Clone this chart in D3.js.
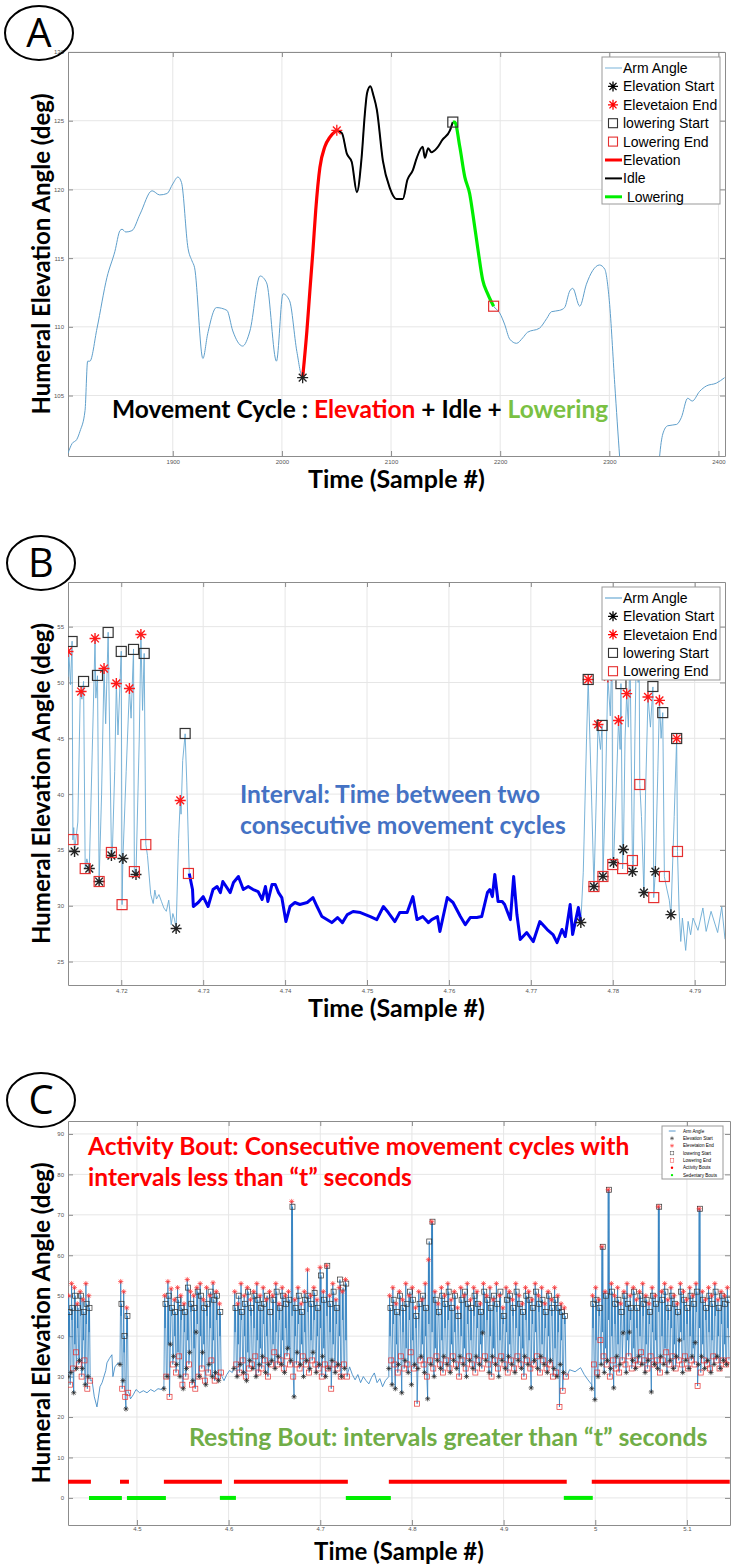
<!DOCTYPE html>
<html>
<head>
<meta charset="utf-8">
<title>Humeral Elevation Angle</title>
<script src="https://cdn.jsdelivr.net/npm/d3@7"></script>
<style>
  body { margin: 0; background: #fff; }
  .grid line { stroke: #e6e6e6; stroke-width: 1; }
  .axis path, .axis line { stroke: #8c8c8c; stroke-width: 1; }
  .axis text { font-family: "Liberation Sans", Arial, sans-serif; font-size: 6px; fill: #555; }
  .title { font-family: Lato, "Open Sans", sans-serif; font-weight: bold; fill: #000; }
  .note { font-family: Lato, "Open Sans", sans-serif; font-weight: bold; }
  .leg text { font-family: "Liberation Sans", Arial, sans-serif; fill: #000; }
</style>
</head>
<body>
<svg id="fig" width="739" height="1566"></svg>
<script>
// ---------------- panel A ----------------
var aTicksX = [1900, 2000, 2100, 2200, 2300, 2400];
var aTicksY = [105, 110, 115, 120, 125, 130];
var armBefore = [[1804,100.8],[1807.7,101.5],[1812,101.8],[1815,102.4],[1819.6,103.9],[1822,107.5],[1824,107.5],
  [1830.6,109.9],[1839.7,113.6],[1847,115.5],[1851.6,117],[1853.5,117.1],[1857,116.9],[1862.6,117],[1870,118.2],
  [1881,119.9],[1888,119.6],[1894.7,119.7],[1900,120.4],[1904.7,120.9],[1908,120.5],[1914,115.7],[1917.6,114.8],
  [1920,114.3],[1927.6,107.7],[1932,109.5],[1940,111.4],[1949.6,111.2],[1955,109.7],[1964,108.6],[1970.7,109.7],
  [1980,113.7],[1986,113.2],[1995,107.5],[2001,112.4],[2007,111.9],[2013.7,108.2],[2019,106.3]];
var elevationSeg = [[2019,106.3],[2022.9,109.7],[2025.6,112.6],[2028.4,115.5],[2031,118.5],[2034.8,121.6],
  [2039.3,123.1],[2044,123.8],[2050.3,124.3]];
var idleSeg = [[2050.3,124.3],[2055,124.1],[2059.5,122.6],[2064,122],[2068.7,119.8],[2073,122.3],[2076,125.5],
  [2078,127],[2081,127.5],[2084,126.8],[2087,125.8],[2092.5,122.1],[2098.9,120.1],[2105,119.3],[2110.8,119.3],
  [2115,120.7],[2120,121.4],[2123.6,122.3],[2129,123.1],[2131,122.3],[2134,123],[2137,122.7],[2142,123],
  [2147,123.6],[2154,124.3],[2156.6,124.9]];
var loweringSeg = [[2156.6,124.9],[2158.4,124.9],[2163,123.1],[2167.6,120.9],[2172,119.7],[2175,118.2],
  [2179.5,115.7],[2184,113.4],[2188.6,112.4],[2194,111.5]];
var armAfter = [[2194,111.5],[2199.6,111],[2204,110.2],[2208.8,109.1],[2215,108.8],[2220.7,109.2],[2225,109.6],
  [2236,109.9],[2242.6,110.6],[2247,111.1],[2254.5,111.2],[2259,111.4],[2263.7,112.6],[2266.5,112.8],
  [2272.9,111.5],[2279,113.1],[2284.8,114.1],[2291,114.5],[2295.8,114.2],[2300,111.9],[2305,105.8],
  [2309.5,100.5],[2313,97],[2343,97],[2346,100.5],[2349,102.2],[2353.5,102.8],[2361.7,102.9],[2366,103.4],
  [2371.8,104.8],[2376,104.6],[2382.7,105.3],[2389,105.7],[2398,105.9],[2405.6,106.3]];

// ---------------- panel B ----------------
var bTicksX = [4.72, 4.73, 4.74, 4.75, 4.76, 4.77, 4.78, 4.79];
var bTicksY = [25, 30, 35, 40, 45, 50, 55];
var armBLeft = [[4.7135,50.5],[4.7136,52.8],[4.7138,49.8],[4.7140,53.7],[4.7141,35.9],[4.7142,37],[4.7143,34.9],
  [4.7147,37.5],[4.7150,49.2],[4.7152,48.5],[4.7154,50.1],[4.7156,33.3],[4.7158,34.2],[4.7161,33.3],[4.7165,45],
  [4.7168,53.9],[4.7169,48.6],[4.7171,50.6],[4.7173,32.2],[4.7176,40],[4.7179,51.25],[4.7181,46.3],[4.7184,54.5],
  [4.7188,34.8],[4.7189,34.5],[4.7192,42],[4.7194,49.9],[4.7196,45.3],[4.7200,52.8],[4.7201,30.1],[4.7202,34.2],
  [4.7206,42],[4.7210,49.5],[4.7212,46.8],[4.7215,53.0],[4.7216,33.1],[4.7218,32.8],[4.7222,45],[4.7224,54.3],
  [4.7226,47.5],[4.7228,52.6],[4.7230,35.5],[4.7232,34.5],[4.7236,31],[4.7239,30.2],[4.7241,31.4],[4.7243,30.6],
  [4.7246,31],[4.7249,30.4],[4.7252,29.8],[4.7255,29.5],[4.7258,30.5],[4.7261,28.3],[4.7263,29.3],[4.7265,28.8],
  [4.7267,27.96],[4.7270,36],[4.7272,39.4],[4.7273,38.2],[4.7275,43],[4.7278,45.4],[4.7280,41],[4.7283,32.9]];
var intervalB = [[4.7283,32.89],[4.7287,31.45],[4.7288,29.93],[4.7294,30.29],[4.7300,30.82],[4.7306,29.93],
  [4.7312,31.45],[4.7317,31.72],[4.7321,31.18],[4.7324,32.17],[4.7333,31.18],[4.7337,32.08],[4.7343,32.62],
  [4.7349,31.45],[4.7355,31.72],[4.7361,31.45],[4.7367,31.27],[4.7372,30.56],[4.7376,31.72],[4.7379,30.38],
  [4.7384,31.9],[4.7388,31.9],[4.7392,31.18],[4.7396,30.73],[4.7401,28.58],[4.7406,29.93],[4.7412,30.29],
  [4.7418,30.11],[4.7427,30.29],[4.7434,30.73],[4.7439,29.93],[4.7445,29.03],[4.7451,28.76],[4.7457,28.49],
  [4.7464,28.94],[4.7470,28.49],[4.7476,29.21],[4.7483,29.48],[4.7492,29.39],[4.7504,29.03],[4.7512,28.76],
  [4.7520,29.93],[4.7526,29.39],[4.7534,28.58],[4.7540,29.39],[4.7549,29.39],[4.7556,30.82],[4.7561,28.76],
  [4.7568,29.03],[4.7575,28.49],[4.7579,28.76],[4.7586,29.03],[4.7589,27.69],[4.7598,30.73],[4.7605,30.29],
  [4.7614,29.03],[4.7620,28.3],[4.7626,28.94],[4.7634,28.94],[4.7640,29.03],[4.7647,31.18],[4.7650,31.45],
  [4.7653,30.82],[4.7656,32.8],[4.7660,30.38],[4.7665,30.38],[4.7668,30.11],[4.7675,28.76],[4.7679,32.62],
  [4.7683,29.21],[4.7687,26.97],[4.7695,27.6],[4.7703,26.79],[4.7711,28.58],[4.7720,27.87],[4.7727,27.42],
  [4.7732,26.7],[4.7738,27.87],[4.7742,27.24],[4.7748,30.11],[4.7751,27.42],[4.7758,29.84],[4.7761,28.49]];
var armBRight = [[4.7761,28.49],[4.7764,33],[4.7768,45],[4.7770,50.3],[4.7774,40],[4.7777,31.7],[4.7780,40],
  [4.7782,46.2],[4.7785,44],[4.7787,46.15],[4.7788,32.6],[4.7791,40],[4.7794,50.5],[4.7797,47],[4.7799,53],
  [4.7800,33.7],[4.7801,33.9],[4.7804,40],[4.7807,46.6],[4.7809,44],[4.7810,49.9],[4.7812,33.3],[4.7813,35.0],
  [4.7815,45],[4.7817,49.0],[4.7819,46],[4.7821,53],[4.7824,34.05],[4.7825,33.06],[4.7827,45],[4.7829,54],
  [4.7831,50],[4.7832,55],[4.7833,40.86],[4.7835,38],[4.7838,31.18],[4.7840,40],[4.7843,48.7],[4.7846,46],
  [4.7849,49.6],[4.7850,30.73],[4.7852,33.06],[4.7855,42],[4.7857,48.4],[4.7859,45],[4.7861,47.3],[4.7863,32.6],
  [4.7866,31.5],[4.7869,30.5],[4.7871,29.2],[4.7875,38],[4.7878,45.0],[4.7879,34.86],[4.7881,29.5],[4.7883,26.8],
  [4.7885,28.9],[4.7889,26.0],[4.7892,28.6],[4.7895,27.4],[4.7898,28.9],[4.7904,27.8],[4.7910,29.8],[4.7914,27.7],
  [4.7920,29.5],[4.7928,27.6],[4.7933,29.9],[4.7937,27.0]];
var bElevStart = [[4.7143,34.86],[4.7161,33.33],[4.7173,32.17],[4.7188,34.5],[4.7202,34.23],[4.7218,32.8],
  [4.7267,27.96],[4.7761,28.5],[4.7777,31.72],[4.7788,32.62],[4.7801,33.87],[4.7813,35.04],[4.7824,33.06],
  [4.7838,31.18],[4.7852,33.06],[4.7871,29.2]];
var bElevEnd = [[4.7135,52.78],[4.7151,49.19],[4.7168,53.94],[4.7179,51.25],[4.7194,49.91],[4.7210,49.46],
  [4.7224,54.3],[4.7272,39.43],[4.7770,50.27],[4.7782,46.24],[4.7794,50.5],[4.7807,46.6],[4.7817,49.0],
  [4.7829,54],[4.7843,48.7],[4.7857,48.4],[4.7878,44.98]];
var bLowerStart = [[4.7140,53.67],[4.7154,50.09],[4.7171,50.63],[4.7184,54.48],[4.7200,52.78],[4.7215,52.96],
  [4.7228,52.6],[4.7278,45.43],[4.7770,50.27],[4.7787,46.15],[4.7799,53],[4.7810,49.9],[4.7821,53],[4.7832,55],
  [4.7849,49.64],[4.7861,47.3],[4.7878,44.98]];
var bLowerEnd = [[4.7141,35.93],[4.7156,33.33],[4.7173,32.17],[4.7188,34.77],[4.7201,30.1],[4.7216,33.06],
  [4.7230,35.48],[4.7282,32.89],[4.7777,31.72],[4.7788,32.62],[4.7800,33.69],[4.7812,33.33],[4.7824,34.05],
  [4.7833,40.86],[4.7850,30.73],[4.7863,32.62],[4.7879,34.86]];

// ---------------- panel C ----------------
var cTicksX = [4.5, 4.6, 4.7, 4.8, 4.9, 5.0, 5.1];
var cTicksY = [0, 10, 20, 30, 40, 50, 60, 70, 80, 90];
var activityBouts = [[4.4248,4.4498],[4.4815,4.4913],[4.5294,4.5927],[4.6058,4.7301],[4.7748,4.9689],[4.9962,5.1467]];
var sedentaryBouts = [[4.4477,4.4836],[4.4891,4.5316],[4.5905,4.6080],[4.7279,4.7770],[4.9657,4.9973]];
// movement cycles per activity bout: [elev start, elev end, lowering start, lowering end] (deg)
var cyclesC = [
  [[30,50,46,28],[31,53,47,32],[26,52,50,36],[32,48,47,33],[34,51,50,30],[32,49,46,34],[28,53,48,27],[30,50,47,29]],
  [[33,53.5,48,27],[29,51,40,25],[22,47,45,26]],
  [[27,50,48,30],[30,53.5,50,25],[38,51.7,47,33],[35,49,46,31],[33,52,49,35],[30,50,47,28],[27,48,46,30],
   [32,54,52,33],[36,51,48,28],[29,50,47,27],[41,52,51,30],[30,53,50,32],[36,49,47,29],[28,52,48,31],
   [33,50,51,34],[30,53.2,49,29],[31,51,50,30],[29,48,46,31]],
  [[32,51,47,33],[30,48,50,31],[33,53,46,34],[31,50,48,30],[29,52,51,32],[34,49,47,33],[32,51,50,35],
   [30,53,49,31],[33,50,47,32],[35,52,48,34],[31,49,50,30],[33,51,46,33],[34,50,49,36],[32,53,51,33],
   [35,48,47,34],[33,52,50,32],[31,50,48,35],[37,51,49,33],[34,73.3,72,30],[25,49,47,33],[36,52,50,32],
   [33,48,46,35],[30,51,49,33],[34,56.4,50,31],[32,50,48,34],[36,52,50.7,33],[31,49,47,32],[33,57,55,30],
   [35,51,49,33],[30,57.4,57.4,32],[32,50,48,27],[34,53,51,33],[31,49,47,32],[33,52,54,30],[30,51,52,33],
   [32,54,53,30]],
  [[32,50,47,34],[28,52,49,33],[27,48,46,31],[33,51,50,35],[26,49,47,32],[34,53,48,33],[31,50,51,36],
   [28,52,49,32],[33,47,45,23.3],[32,51,48,34],[35,49,50,33],[31,53,47,30],[24.5,58.9,63.4,34],[33,68.3,68.3,32],
   [30,51,49,35],[34,48,46,33],[32,52,50,31],[35,50,48,34],[33,53,51,32],[31,49,47,35],[34,51,50,33],
   [32,47,45,30],[35,52,49,34],[33,50,51,32],[30,53,48,35],[34,49,47,33],[32,52,50,31],[35,51,48,34],
   [33,48,46,32],[40.8,53,51,35],[34,50,49,33],[31,52,47,30],[35,49,50,34],[33,53,48,32],[30,50,51,35],
   [34,47,45,33],[32,52,49,31],[35,51,50,34],[33,49,47,32],[31,53,51,35],[34,50,48,33],[32,48,46,30],
   [35,52,50,34],[33,51,49,32],[27.2,49,47,33],[34,53,51,35],[32,50,48,31],[35,52,49,34],[33,48,46,32],
   [31,51,50,33],[34,49,47,30],[32,52,49,31],[30,50,47,22.5],[33,48,46,26.5],[31,47,45,30]],
  [[27,50,48,33],[24.3,52,49,31],[30,49,47,39],[33,62.1,62.1,35],[31,51,50,33],[34,76.2,76.2,30],[32,53,51,34],
   [27.2,50,48,32],[35,52,49,31],[33,48,46,34],[40.8,51,50,33],[31,53,48,35],[41,50,47,32],[34,52,51,34],
   [32,49,47,33],[35,51,50,36],[33,53,48,34],[31,50,49,32],[34,48,46,35],[26.2,52,50,33],[33,50,48,34],
   [32,72,72,31],[35,51,49,34],[33,53,51,36],[31,49,47,33],[34,52,50,35],[32,50,48,32],[35,48,46,34],
   [39,53,51,33],[31,51,49,35],[34,49,47,32],[32,52,50,34],[35,50,48,33],[38.4,53,51,27.7],[33,71.5,71.5,31],
   [35,51,49,34],[32,49,47,33],[34,52,50,32],[31,50,48,35],[33,53,51,34],[35,49,47,32],[32,51,50,34],
   [34,50,48,33],[33,52,49,34]]
];
// lowest point of the idle dip inside each movement cycle (deg)
var idleDipC = [
  [40,44,38,42,45,39,43,41],
  [45,36,40],
  [42,38,45,40,36,44,41,39,46,37,43,40,38,45,42,39,44,40],
  [41,38,44,40,36,45,42,39,37,43,40,46,38,41,44,39,42,37,45,40,43,38,41,46,39,44,40,42,37,45,41,38,43,40,44,39],
  [40,43,38,45,41,37,44,39,42,46,38,40,43,41,37,45,39,42,44,38,41,46,40,37,43,39,45,42,38,41,44,40,37,46,39,43,
   41,38,45,42,40,37,44,39,43,41,46,38,42,40,45,37,41,39,43],
  [42,39,45,41,37,44,40,43,38,46,41,39,44,37,42,40,45,38,43,41,39,46,40,37,44,42,38,45,41,39,43,40,37,46,42,38,
   44,41,39,45,40,43,38,42]
];
// resting stretches of the arm angle trace between bouts
var restC = [
  [[4.4498,29],[4.4509,29.2],[4.4535,25],[4.4564,22.5],[4.4597,27.5],[4.4620,28.5],[4.4640,30],[4.4660,31.5],
   [4.4673,33.4],[4.4700,34.5],[4.4727,35.4],[4.4738,30],[4.4760,32.4],[4.4793,33.4],[4.4815,33]],
  [[4.4913,26],[4.4930,24.5],[4.4960,25.5],[4.4990,26.8],[4.5030,26],[4.5070,26.5],[4.5110,26],[4.5150,26.8],
   [4.5190,26.3],[4.5230,27],[4.5270,26.8],[4.5294,27.5]],
  [[4.5927,30],[4.5950,29],[4.5980,30.5],[4.6010,31.5],[4.6040,31],[4.6058,32]],
  [[4.7301,31],[4.7320,32.4],[4.7350,30.5],[4.7380,29.2],[4.7410,30.5],[4.7440,28.5],[4.7470,30],[4.7500,29],
   [4.7530,28.2],[4.7560,29.8],[4.7590,30.9],[4.7620,28.5],[4.7650,29.5],[4.7680,27.5],[4.7710,29],[4.7748,30]],
  [[4.9689,30],[4.9720,31.7],[4.9780,31.2],[4.9840,32.2],[4.9880,30.5],[4.9920,29.2],[4.9962,28]]
];

// ---------------- drawing ----------------
var svg = d3.select("#fig");
var fmt = function(d) { return String(+d.toFixed(2)); };

function addPanel(p) {
  var x = d3.scaleLinear().domain(p.xDomain).range([p.left, p.right]);
  var y = d3.scaleLinear().domain(p.yDomain).range([p.bottom, p.top]);
  var g = svg.append("g");
  g.append("g").attr("class", "grid").selectAll("line").data(p.xTicks).join("line")
    .attr("x1", x).attr("x2", x).attr("y1", p.top).attr("y2", p.bottom);
  g.append("g").attr("class", "grid").selectAll("line").data(p.yTicks).join("line")
    .attr("x1", p.left).attr("x2", p.right).attr("y1", y).attr("y2", y);
  g.append("g").attr("class", "axis").attr("transform", "translate(0," + p.bottom + ")")
    .call(d3.axisBottom(x).tickValues(p.xTicks).tickSize(-5).tickSizeOuter(0).tickPadding(p.pad).tickFormat(fmt));
  g.append("g").attr("class", "axis").attr("transform", "translate(0," + p.top + ")")
    .call(d3.axisTop(x).tickValues(p.xTicks).tickSize(-5).tickSizeOuter(0).tickFormat(""));
  g.append("g").attr("class", "axis").attr("transform", "translate(" + p.left + ",0)")
    .call(d3.axisLeft(y).tickValues(p.yTicks).tickSize(-5).tickSizeOuter(0).tickPadding(4).tickFormat(fmt));
  g.append("g").attr("class", "axis").attr("transform", "translate(" + p.right + ",0)")
    .call(d3.axisRight(y).tickValues(p.yTicks).tickSize(-5).tickSizeOuter(0).tickFormat(""));
  svg.append("clipPath").attr("id", p.id).append("rect")
    .attr("x", p.left).attr("y", p.top).attr("width", p.right - p.left).attr("height", p.bottom - p.top);
  var plot = svg.append("g").attr("clip-path", "url(#" + p.id + ")");

  // titles
  var cy = (p.top + p.bottom) / 2;
  svg.append("text").attr("class", "title").attr("transform", "translate(50," + cy + ") rotate(-90)")
    .attr("text-anchor", "middle").style("font-size", "24px").text("Humeral Elevation Angle (deg)");
  svg.append("text").attr("class", "title").attr("x", (p.left + p.right) / 2).attr("y", p.bottom + p.titleDy)
    .attr("text-anchor", "middle").style("font-size", p.titleSize + "px").text("Time (Sample #)");
  // panel letter
  svg.append("ellipse").attr("cx", p.lab[0]).attr("cy", p.lab[1]).attr("rx", 34).attr("ry", 27)
    .attr("fill", "none").attr("stroke", "#000").attr("stroke-width", 2);
  svg.append("text").attr("x", p.lab[0]).attr("y", p.lab[1] + 14).attr("text-anchor", "middle")
    .style("font-family", "'Open Sans', sans-serif").style("font-size", "40px").text(p.letter);
  return { x: x, y: y, plot: plot };
}

function starPath(r) {
  var a = r * 0.707;
  return "M" + (-r) + ",0H" + r + "M0," + (-r) + "V" + r +
    "M" + (-a) + "," + (-a) + "L" + a + "," + a + "M" + (-a) + "," + a + "L" + a + "," + (-a);
}
function stars(sel, pts, x, y, r, color, w) {
  sel.append("g").selectAll("path").data(pts).join("path")
    .attr("transform", function(d) { return "translate(" + x(d[0]) + "," + y(d[1]) + ")"; })
    .attr("d", starPath(r)).attr("fill", "none").attr("stroke", color).attr("stroke-width", w);
}
function squares(sel, pts, x, y, s, color, w) {
  sel.append("g").selectAll("rect").data(pts).join("rect")
    .attr("x", function(d) { return x(d[0]) - s / 2; }).attr("y", function(d) { return y(d[1]) - s / 2; })
    .attr("width", s).attr("height", s).attr("fill", "none").attr("stroke", color).attr("stroke-width", w);
}
function drawLine(sel, pts, x, y, color, w, curve) {
  sel.append("path").datum(pts)
    .attr("d", d3.line().x(function(d) { return x(d[0]); }).y(function(d) { return y(d[1]); }).curve(curve || d3.curveLinear))
    .attr("fill", "none").attr("stroke", color).attr("stroke-width", w).attr("stroke-linejoin", "round");
}

function legend(box, items, fs, rowH, firstY, symX, textX, scale) {
  var g = svg.append("g").attr("class", "leg");
  g.append("rect").attr("x", box[0]).attr("y", box[1]).attr("width", box[2]).attr("height", box[3])
    .attr("fill", "#fff").attr("stroke", "#999").attr("stroke-width", 1);
  items.forEach(function(it, i) {
    var yy = firstY + i * rowH;
    if (it.type === "line") {
      g.append("line").attr("x1", symX - 8 * scale).attr("x2", symX + 9 * scale).attr("y1", yy).attr("y2", yy)
        .attr("stroke", it.color).attr("stroke-width", it.w);
    } else if (it.type === "star") {
      g.append("path").attr("transform", "translate(" + symX + "," + yy + ")").attr("d", starPath(5 * scale))
        .attr("fill", "none").attr("stroke", it.color).attr("stroke-width", 1.3 * scale);
    } else if (it.type === "square") {
      g.append("rect").attr("x", symX - 4.5 * scale).attr("y", yy - 4.5 * scale).attr("width", 9 * scale)
        .attr("height", 9 * scale).attr("fill", "none").attr("stroke", it.color).attr("stroke-width", 1.1 * scale);
    } else if (it.type === "dot") {
      g.append("circle").attr("cx", symX).attr("cy", yy).attr("r", 3 * scale).attr("fill", it.color);
    }
    g.append("text").attr("x", textX).attr("y", yy).attr("dy", "0.36em").style("font-size", fs + "px").text(it.label);
  });
}

// ===== Panel A =====
var A = addPanel({ id: "clipA", left: 68, right: 725, top: 52, bottom: 456, xDomain: [1804, 2406], yDomain: [100.6, 130],
  xTicks: aTicksX, yTicks: aTicksY, titleDy: 32, titleSize: 25, pad: 4, lab: [39, 33], letter: "A" });
var armA = armBefore.concat(elevationSeg.slice(1), idleSeg.slice(1), loweringSeg.slice(1), armAfter.slice(1));
drawLine(A.plot, armA, A.x, A.y, "#5f9fcb", 1, d3.curveMonotoneX);
drawLine(A.plot, elevationSeg, A.x, A.y, "#ff0000", 3.2, d3.curveMonotoneX);
drawLine(A.plot, idleSeg, A.x, A.y, "#000", 2, d3.curveMonotoneX);
drawLine(A.plot, loweringSeg, A.x, A.y, "#00ee00", 3.2, d3.curveMonotoneX);
stars(A.plot, [elevationSeg[0]], A.x, A.y, 5.5, "#222", 1.3);
stars(A.plot, [elevationSeg[elevationSeg.length - 1]], A.x, A.y, 5.5, "#ff1a1a", 1.3);
squares(A.plot, [loweringSeg[0]], A.x, A.y, 10, "#333", 1.2);
squares(A.plot, [loweringSeg[loweringSeg.length - 1]], A.x, A.y, 10, "#e53030", 1.2);
svg.append("text").attr("class", "note").attr("x", 112).attr("y", 418).style("font-size", "24.5px")
  .call(function(t) {
    t.append("tspan").attr("fill", "#000").text("Movement Cycle : ");
    t.append("tspan").attr("fill", "#ff0000").text("Elevation");
    t.append("tspan").attr("fill", "#000").text(" + Idle + ");
    t.append("tspan").attr("fill", "#7ac143").text("Lowering");
  });
legend([602, 57, 118, 147], [
  { label: "Arm Angle", type: "line", color: "#8fbfdf", w: 1.2 },
  { label: "Elevation Start", type: "star", color: "#000" },
  { label: "Elevetaion End", type: "star", color: "#ff0000" },
  { label: "lowering Start", type: "square", color: "#333" },
  { label: "Lowering End", type: "square", color: "#e53030" },
  { label: "Elevation", type: "line", color: "#ff0000", w: 3 },
  { label: "Idle", type: "line", color: "#000", w: 2 },
  { label: "\u00a0Lowering", type: "line", color: "#00ee00", w: 3 }
], 14, 18.4, 68, 613, 623, 1);

// ===== Panel B =====
var B = addPanel({ id: "clipB", left: 68, right: 725, top: 582, bottom: 985, xDomain: [4.7135, 4.7937], yDomain: [22.9, 59],
  xTicks: bTicksX, yTicks: bTicksY, titleDy: 32, titleSize: 25, pad: 4, lab: [41, 563], letter: "B" });
drawLine(B.plot, armBLeft, B.x, B.y, "#6aaad4", 0.9);
drawLine(B.plot, armBRight, B.x, B.y, "#6aaad4", 0.9);
drawLine(B.plot, intervalB, B.x, B.y, "#0000ee", 3);
stars(B.plot, bElevStart, B.x, B.y, 5.5, "#222", 1.4);
stars(B.plot, bElevEnd, B.x, B.y, 5.5, "#ff1a1a", 1.4);
squares(B.plot, bLowerStart, B.x, B.y, 10, "#333", 1.2);
squares(B.plot, bLowerEnd, B.x, B.y, 10, "#e53030", 1.2);
svg.append("text").attr("class", "note").attr("x", 240).attr("y", 803).attr("fill", "#4472c4").style("font-size", "24.6px")
  .text("Interval: Time between two");
svg.append("text").attr("class", "note").attr("x", 240).attr("y", 834).attr("fill", "#4472c4").style("font-size", "24.6px")
  .text("consecutive movement cycles");
legend([602, 587, 118, 93], [
  { label: "Arm Angle", type: "line", color: "#6aaad4", w: 1.2 },
  { label: "Elevation Start", type: "star", color: "#000" },
  { label: "Elevetaion End", type: "star", color: "#ff0000" },
  { label: "lowering Start", type: "square", color: "#333" },
  { label: "Lowering End", type: "square", color: "#e53030" }
], 14, 18.3, 598, 613, 623, 1);

// ===== Panel C =====
var C = addPanel({ id: "clipC", left: 68, right: 730, top: 1121, bottom: 1525, xDomain: [4.4248, 5.147], yDomain: [-6.7, 93.2],
  xTicks: cTicksX, yTicks: cTicksY, titleDy: 35, titleSize: 24, pad: 2, lab: [41, 1100], letter: "C" });
var armC = [], esC = [], eeC = [], lsC = [], leC = [];
cyclesC.forEach(function(cyc, b) {
  var t = d3.scaleLinear().domain([0, cyc.length]).range(activityBouts[b]);
  if (b > 0) armC = armC.concat(restC[b - 1]);
  cyc.forEach(function(c, i) {
    var p1 = [t(i), c[0]], p2 = [t(i + 0.25), c[1]], dip = [t(i + 0.38), idleDipC[b][i]],
        p3 = [t(i + 0.5), c[2]], p4 = [t(i + 0.75), c[3]];
    armC.push(p1, p2, dip, p3, p4);
    esC.push(p1); eeC.push(p2); lsC.push(p3); leC.push(p4);
  });
});
drawLine(C.plot, armC, C.x, C.y, "#2f7fbf", 0.8);
squares(C.plot, leC, C.x, C.y, 5, "#e53030", 0.7);
squares(C.plot, lsC, C.x, C.y, 5, "#333", 0.7);
stars(C.plot, eeC, C.x, C.y, 2.6, "#ff3030", 0.7);
stars(C.plot, esC, C.x, C.y, 2.6, "#222", 0.7);
C.plot.append("g").selectAll("line").data(activityBouts).join("line")
  .attr("x1", function(d) { return C.x(d[0]); }).attr("x2", function(d) { return C.x(d[1]); })
  .attr("y1", C.y(4)).attr("y2", C.y(4)).attr("stroke", "#ff0000").attr("stroke-width", 4);
C.plot.append("g").selectAll("line").data(sedentaryBouts).join("line")
  .attr("x1", function(d) { return C.x(d[0]); }).attr("x2", function(d) { return C.x(d[1]); })
  .attr("y1", C.y(0)).attr("y2", C.y(0)).attr("stroke", "#00ee00").attr("stroke-width", 4);
svg.append("text").attr("class", "note").attr("x", 88).attr("y", 1155).attr("fill", "#ff0000").style("font-size", "24.6px")
  .text("Activity Bout: Consecutive movement cycles with");
svg.append("text").attr("class", "note").attr("x", 88).attr("y", 1186).attr("fill", "#ff0000").style("font-size", "24.6px")
  .text("intervals less than \u201ct\u201d seconds");
svg.append("text").attr("class", "note").attr("x", 189).attr("y", 1446).attr("fill", "#70ad47").style("font-size", "24.8px")
  .text("Resting Bout: intervals greater than \u201ct\u201d seconds");
legend([662, 1126, 61, 53], [
  { label: "Arm Angle", type: "line", color: "#2f7fbf", w: 0.8 },
  { label: "Elevation Start", type: "star", color: "#333" },
  { label: "Elevetaion End", type: "star", color: "#ff3030" },
  { label: "lowering Start", type: "square", color: "#333" },
  { label: "Lowering End", type: "square", color: "#e53030" },
  { label: "Activity Bouts", type: "dot", color: "#ff0000" },
  { label: "Sedentary Bouts", type: "dot", color: "#00ee00" }
], 4.6, 7.35, 1131, 672, 683, 0.4);
</script>
</body>
</html>
